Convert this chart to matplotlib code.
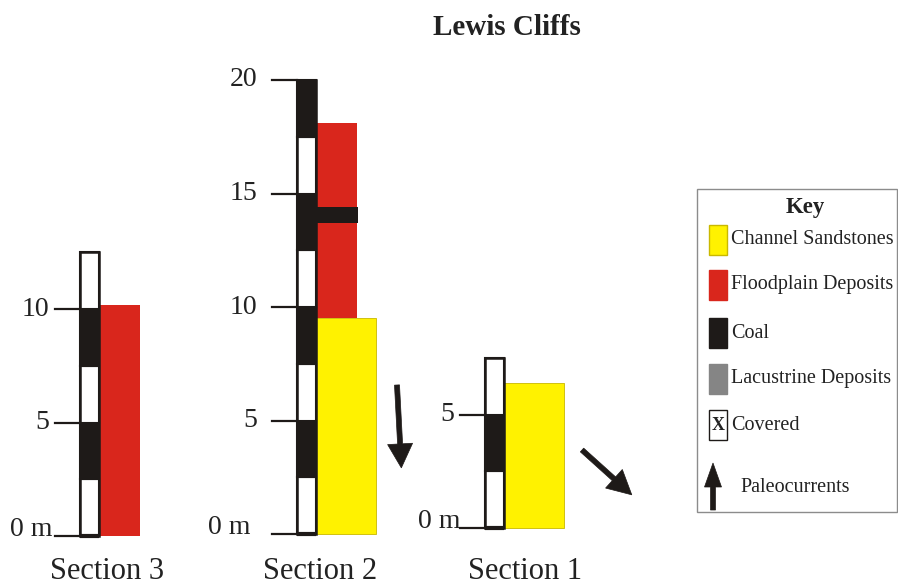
import matplotlib.pyplot as plt
from matplotlib.patches import Rectangle, FancyArrow
import numpy as np

plt.rcParams['font.family'] = ['Liberation Serif', 'DejaVu Serif']

# data (metres)
sections = ['Section 3', 'Section 2', 'Section 1']
column_top = [12.5, 20.0, 7.5]          # measured thickness of each section
scale_step = 2.5                         # alternating scale-bar interval
tick_values = [[0, 5, 10], [0, 5, 10, 15, 20], [0, 5]]
floodplain = [[(0.0, 10.2)], [(9.5, 18.1)], []]
sandstone = [[], [(0.0, 9.5)], [(0.0, 6.4)]]
coal_beds = [[], [(13.7, 14.4)], []]
paleo_azimuth = [None, 177, 132]         # degrees clockwise from north

key_labels = ['Channel Sandstones', 'Floodplain Deposits', 'Coal',
              'Lacustrine Deposits', 'Covered']

# colours
YELLOW = '#fff200'
RED = '#d9261c'
COAL = '#1e1a18'
GRAY = '#858585'

# layout (pixels)
W, H = 898, 586
px_per_m = 22.7
base_px = 534
col_left = [80, 297, 485]
col_w = 19
base_shift = [-0.09, 0.0, 0.26]
mud_w, sand_w = 41, 60
lab_gap = [6, 15, 6]
zero_gap = [2, 22, 0]
arrow_tail = [None, (397, 385), (582, 450)]
arrow_len = [None, 83, 67]
sec_label_x = [107, 320, 525]

fig = plt.figure(figsize=(W / 100, H / 100), dpi=100)
ax = fig.add_axes([0, 0, 1, 1])
ax.set_xlim(0, W)
ax.set_ylim(-(H - base_px) / px_per_m, base_px / px_per_m)
ax.axis('off')

ov = fig.add_axes([0, 0, 1, 1])
ov.set_xlim(0, W)
ov.set_ylim(H, 0)
ov.axis('off')

for i, name in enumerate(sections):
    x0 = col_left[i]
    b = base_shift[i]
    right = x0 + col_w
    # lithology units
    for lo, hi in floodplain[i]:
        ax.add_patch(Rectangle((right, lo + b), mud_w, hi - lo, fc=RED, ec='none', zorder=2))
    for lo, hi in coal_beds[i]:
        ax.add_patch(Rectangle((right, lo + b), mud_w + 1, hi - lo, fc=COAL, ec='none', zorder=3))
    for lo, hi in sandstone[i]:
        ax.add_patch(Rectangle((right, lo + b), sand_w, hi - lo, fc=YELLOW, ec='#c9b800', lw=0.6, zorder=4))
    # scale bar column
    edges = np.arange(0, column_top[i], scale_step)
    for k, lo in enumerate(edges):
        hi = min(lo + scale_step, column_top[i])
        fc = COAL if k % 2 == 1 else 'white'
        ax.add_patch(Rectangle((x0, lo + b), col_w, hi - lo, fc=fc, ec=COAL, lw=1.5, zorder=5))
    ax.add_patch(Rectangle((x0, b), col_w, column_top[i], fc='none', ec=COAL, lw=1.8, zorder=6))
    ax.plot([x0, right], [b, b], color=COAL, lw=3, solid_capstyle='butt', zorder=7)
    # ticks
    for v in tick_values[i]:
        ax.plot([x0 - 25, x0], [v + b, v + b], color=COAL, lw=1.6, zorder=5)
        if v == 0:
            ax.text(x0 - 25 - zero_gap[i], v + b, '0 m', ha='right', va='baseline',
                    fontsize=20, color='#222')
        else:
            ax.text(x0 - 25 - lab_gap[i], v + b, str(v), ha='right', va='center',
                    fontsize=20, color='#222')
    ov.text(sec_label_x[i], 579, name, ha='center', va='baseline', fontsize=22, color='#222')
    # paleocurrent arrow
    if paleo_azimuth[i] is not None:
        a = np.radians(paleo_azimuth[i])
        L = arrow_len[i]
        tx, ty = arrow_tail[i]
        ov.add_patch(FancyArrow(tx, ty, L * np.sin(a), -L * np.cos(a), width=5,
                                head_width=25, head_length=24, length_includes_head=True,
                                fc=COAL, ec=COAL, lw=0.5))

ov.text(507, 35, 'Lewis Cliffs', ha='center', va='baseline', fontsize=21,
        fontweight='bold', color='#222')

# key
ov.add_patch(Rectangle((697, 189), 200, 323, fc='white', ec='#8c8c8c', lw=1))
ov.text(805, 213, 'Key', ha='center', va='baseline', fontsize=16.5, fontweight='bold', color='#222')
key_fc = [YELLOW, RED, COAL, GRAY, 'white']
key_ec = ['#c9b800', RED, COAL, GRAY, COAL]
row_top = [225, 270, 318, 364, 410]
for lab, fc, ec, y in zip(key_labels, key_fc, key_ec, row_top):
    ov.add_patch(Rectangle((709, y), 18, 30, fc=fc, ec=ec, lw=1))
    ov.text(731, y + 15, lab, ha='left', va='center', fontsize=14.5, color='#222')
ov.text(718, y + 16, 'X', ha='center', va='center', fontsize=13, fontweight='bold', color='#222')
ov.add_patch(FancyArrow(713, 510, 0, -47, width=5, head_width=17, head_length=24,
                        length_includes_head=True, fc=COAL, ec=COAL, lw=0.5))
ov.text(740, 488, 'Paleocurrents', ha='left', va='center', fontsize=14.5, color='#222')

fig.savefig('out.png', dpi=100)
